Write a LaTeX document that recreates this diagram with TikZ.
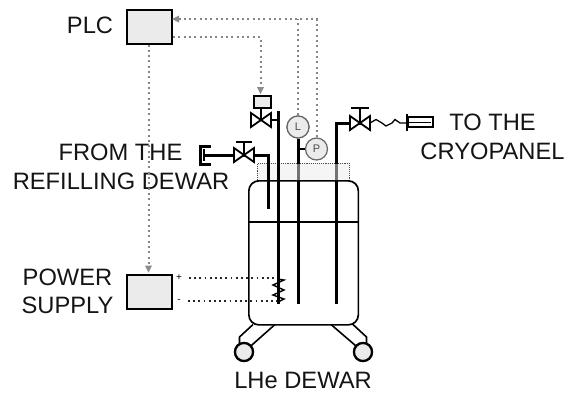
\documentclass[tikz,border=0pt]{standalone}
\usepackage{fontspec}
\setmainfont{Liberation Sans}
\usetikzlibrary{arrows.meta,calc}
\tikzset{
 x=1pt,y=-1pt,
 lab/.style={font=\fontsize{23.7}{26}\selectfont,inner sep=0pt,text=black!92,anchor=base},
 box/.style={draw=black,line width=2.3pt,fill=black!8,inner sep=0pt,anchor=north west},
 gauge/.style={circle,draw=black!60,line width=1.2pt,fill=black!8,minimum size=22pt,inner sep=0pt,font=\fontsize{11}{11}\selectfont,text=black!70},
 pipe/.style={line width=3pt,black},
 thin pipe/.style={line width=1.6pt,black},
 sig/.style={draw=black!48,line width=2pt,dash pattern=on 2pt off 3.3pt},
 sigtip/.style={fill=black!45,draw=none},
 elec/.style={black!85,line width=1.8pt,dash pattern=on 1.8pt off 3.4pt},
 valve/.style={draw=black,line width=1.8pt,fill=white},
 wheel/.style={circle,draw=black,line width=2.2pt,fill=black!8,minimum size=18pt,inner sep=0pt},
}
\newcommand{\myvalve}[2]{%
 \draw[valve] (#1-10,#2-7) -- (#1+10,#2+7) -- (#1+10,#2-7) -- (#1-10,#2+7) -- cycle;}
\begin{document}
\begin{tikzpicture}
\useasboundingbox (0,0) rectangle (574,392);
% boxes
\node[box,minimum width=45pt,minimum height=34pt] (plc) at (126,9) {};
\node[box,minimum width=45pt,minimum height=34pt] (psu) at (126,273.5) {};
% labels
\node[lab] (tplc) at (90,33.5) {PLC};
\node[lab] (tpow) at (67.5,285) {POWER};
\node[lab] (tsup) at (67.5,313.5) {SUPPLY};
\node[lab] (tfrom) at (120.5,160.5) {FROM THE};
\node[lab] (tref) at (121,189.5) {REFILLING DEWAR};
\node[lab] (tto) at (492.5,130.5) {TO THE};
\node[lab] (tcry) at (492.5,159.5) {CRYOPANEL};
\node[lab] (tlhe) at (303,388.5) {LHe DEWAR};
% neck
\node[draw=black!70,densely dotted,line width=.9pt,fill=black!4,minimum width=92pt,minimum height=17pt,inner sep=0pt,anchor=north west] (neck) at (257,163) {};
% vessel
\node[draw=black,line width=1.7pt,rounded corners=10pt,minimum width=109.5pt,minimum height=144pt,inner sep=0pt,anchor=north west] (vessel) at (248,180) {};
\coordinate (lvL) at (248,222); \coordinate (lvR) at (357.5,222);
\draw[thin pipe] (lvL) -- (lvR);
% wheels & legs
\node[wheel] (w1) at (244,352) {};
\node[wheel] (w2) at (363,352) {};
\draw[thin pipe] (253,324.5) -- (239.5,337) -- (239.5,344);
\draw[thin pipe] (275,324.5) -- (w1);
\draw[thin pipe] (353,324.5) -- (366.5,337) -- (366.5,344);
\draw[thin pipe] (331,324.5) -- (w2);
\node[wheel] at (w1) {};
\node[wheel] at (w2) {};
% gauges
\node[gauge] (L) at (298,127) {L};
\node[gauge] (P) at (316.5,149) {P};
% tubes
\coordinate (t1) at (278,111); \coordinate (t1b) at (278,304);
\coordinate (t2b) at (298,304);
\coordinate (t3) at (336.5,123); \coordinate (t3b) at (336.5,304);
\draw[pipe] (t1) -- (t1b);
\draw[pipe] (L) -- (t2b);
\node[gauge] at (L) {L};
\draw[pipe] (t3b) -- (t3) -- (360,123);
\draw[line width=1.2pt] (298,149) -- (P);
\draw[line width=1.2pt] (278,120) -- (261,120);
% neck overlay
\fill[white,opacity=.45] (296,164) rectangle (300,180) (334.5,164) rectangle (338.5,180);
% left line
\coordinate (lend) at (268,209);
\draw[pipe] (204,155) -- (268,155) -- (lend);
\draw[pipe] (211,146) -- (200,146) -- (200,164) -- (211,164);
\draw[line width=1.6pt] (204,149) -- (204,161);
\myvalve{244}{155}
\draw[line width=2pt] (244,155) -- (244,142) (236,142) -- (252,142);
% right line
\draw[pipe] (360,123) -- (370,123);
\draw[line width=1.3pt] (370,123) -- (376,119.5) -- (382,123) -- (386,126) -- (392,123) -- (395,119.5) -- (400,123) -- (407,123);
\myvalve{360}{123}
\draw[line width=2pt] (360,123) -- (360,108) (351,108) -- (369,108);
\node[draw=black,line width=2.2pt,minimum width=25pt,minimum height=10pt,inner sep=0pt,anchor=west] (cp) at (407,122) {};
\draw[line width=1.3pt] (409,122.5) -- (431,122.5);
\draw[line width=2.6pt] (407,114) -- (407,131);
% actuated valve
\myvalve{261}{120}
\draw[line width=2pt] (261,106) -- (261,120);
\node[box,minimum width=16.5pt,minimum height=12.5pt] (act) at (253,94.5) {};
% signals
\coordinate (c1) at (298,19); \coordinate (c2) at (316.5,19); \coordinate (c3) at (260.5,37);
\draw[sig] (L.north) -- (c1);
\draw[sig] (P.north) -- (c2) -- (178,19);
\fill[sigtip] (172,19) -- (179,15.5) -- (179,22.5) -- cycle;
\draw[sig] (173,37) -- (c3) -- (260.5,87);
\fill[sigtip] (260.5,94) -- (257,87) -- (264,87) -- cycle;
\draw[sig] (148.5,44.5) -- (148.5,266);
\fill[sigtip] (148.5,272.5) -- (145,265.5) -- (152,265.5) -- cycle;
% heater
\draw[line width=1.4pt] (278,279) -- (284,280) -- (273,285) -- (284,290) -- (273,295) -- (284,299) -- (278,302);
% electric
\coordinate (hp) at (277,278); \coordinate (hm) at (277,301);
\draw[elec] (189,278) -- (hp);
\draw[elec] (188,301) -- (hm);
\node[font=\fontsize{10}{10}\selectfont,inner sep=0pt] (plus) at (179,278) {+};
\node[font=\fontsize{10}{10}\selectfont,inner sep=0pt] (minus) at (179,301) {-};
\end{tikzpicture}
\end{document}
